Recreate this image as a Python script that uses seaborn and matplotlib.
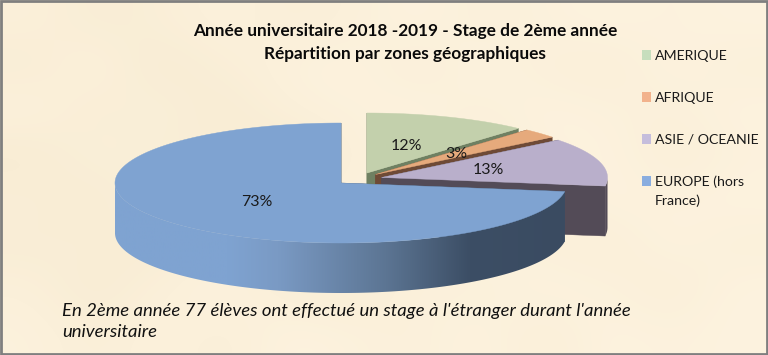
"""Stage de 2eme annee 2018-2019: repartition par zones, camembert facon 3D."""
import matplotlib
matplotlib.use("Agg")
import matplotlib.pyplot as plt
from matplotlib.colors import LinearSegmentedColormap
from matplotlib.patches import Polygon, Rectangle
import numpy as np
import seaborn as sns

ZONES = ["AMERIQUE", "AFRIQUE", "ASIE / OCEANIE", "EUROPE (hors\nFrance)"]
ELEVES = [9, 2, 10, 56]
TITLE = "Année universitaire 2018 -2019 - Stage de 2ème année\nRépartition par zones géographiques"
NOTE = "En 2ème année 77 élèves ont effectué un stage à l'étranger durant l'année\nuniversitaire"

TOP_COLORS = ["#C3D0AC", "#E6AA7C", "#B9AFCB", "#7FA3D1"]
FACE_COLORS = ["#6F8062", "#6E4A36", "#534B57", "#3C4E65"]
SWATCH_COLORS = ["#C6DEBD", "#F2B28C", "#C5BDDC", "#89ADDF"]
PAPER = ["#F7EAD0", "#FDF3DF"]
WALL_STOPS = [0, 0.25, 0.36, 0.6, 0.785, 1]
WALL_COLORS = ["#7FA3D1", "#7FA3D1", "#7A9AC4", "#5C7593", "#3C4E65", "#3A4B61"]

# petite grille de teintes pour le fond parchemin
PAPER_GRID = [
    [4, 2, 3, 5, 3, 4, 6, 4, 5, 6, 5, 6],
    [2, 5, 1, 3, 5, 6, 3, 6, 4, 3, 6, 4],
    [5, 2, 4, 1, 4, 5, 6, 4, 6, 5, 4, 6],
    [1, 4, 2, 3, 0, 4, 5, 3, 5, 6, 3, 5],
    [3, 1, 5, 3, 4, 5, 6, 5, 3, 6, 5, 6],
    [2, 3, 1, 4, 2, 5, 3, 6, 4, 3, 6, 4],
    [4, 1, 4, 6, 3, 2, 5, 4, 6, 5, 3, 6],
    [5, 3, 5, 3, 6, 5, 4, 6, 3, 6, 5, 6],
]

# centres (px) de chaque part eclatee
CENTERS = [(367, 173), (375.5, 174.5), (381.5, 177.5), (341, 183)]
RX, RY, DEPTH = 226, 60, 50
LEGEND_Y = [55, 97, 139, 181]

sns.set_theme(style="white")
plt.rcParams["font.family"] = ["Lato", "DejaVu Sans"]


def rim(center, a0, a1):
    # angles en degres, sens horaire depuis midi
    t = np.radians(np.linspace(a0, a1, max(int(abs(a1 - a0)) * 2, 2)))
    return np.c_[center[0] + RX * np.sin(t), center[1] - RY * np.cos(t)]


def draw_slice(ax, center, a0, a1, top, face, z, wall_cmap=None):
    apex = np.array(center, dtype=float)
    down = np.array([0, DEPTH])

    # faces de coupe
    for ang in (a0, a1):
        tip = rim(center, ang, ang + 1)[0]
        ax.add_patch(Polygon([apex, tip, tip + down, apex + down], fc=face, ec=face, lw=0.3, zorder=z))

    # paroi exterieure, visible de 90 a 270 degres
    w0, w1 = max(a0, 90), min(a1, 270)
    if w1 > w0:
        edge = rim(center, w0, w1)
        shape = Polygon(np.vstack([edge, edge[::-1] + down]), fc=face, ec="none", zorder=z)
        ax.add_patch(shape)
        if wall_cmap is not None:
            shape.set_visible(False)
            im = ax.imshow(np.linspace(0, 1, 256)[None, :], cmap=wall_cmap, aspect="auto",
                           extent=(center[0] - RX, center[0] + RX, 355, 0), zorder=z)
            im.set_clip_path(shape)

    ax.add_patch(Polygon(np.vstack([apex, rim(center, a0, a1)]), fc=top, ec=top, lw=0.3, zorder=z))


fig = plt.figure(figsize=(7.68, 3.55), dpi=100)
ax = fig.add_axes([0, 0, 1, 1])

shades = sns.blend_palette(PAPER, 7)
grid = np.array([[shades[i] for i in row] for row in PAPER_GRID])
ax.imshow(grid, extent=(0, 768, 355, 0), aspect="auto", interpolation="bicubic", zorder=0)

wall = LinearSegmentedColormap.from_list("wall", list(zip(WALL_STOPS, WALL_COLORS)))

total = sum(ELEVES)
edges = np.cumsum([0] + ELEVES) / total * 360
for i in range(len(ELEVES)):
    draw_slice(ax, CENTERS[i], edges[i], edges[i + 1], TOP_COLORS[i], FACE_COLORS[i],
               i + 1, wall if i == 3 else None)

for i, n in enumerate(ELEVES):
    mid = np.radians((edges[i] + edges[i + 1]) / 2)
    x = CENTERS[i][0] + 0.49 * RX * np.sin(mid)
    y = CENTERS[i][1] - 0.49 * RY * np.cos(mid)
    ax.text(x, y, f"{n / total:.0%}", ha="center", va="center", fontsize=11.5,
            color="#1a1a1a", zorder=6)

ax.text(405, 42.5, TITLE, ha="center", va="center", fontsize=12.4, fontweight="bold",
        color="#0a0a0a", linespacing=1.5, zorder=6)
ax.text(62, 321.5, NOTE, ha="left", va="center", fontsize=13.3, style="italic",
        color="#111111", linespacing=1.34, zorder=6)

for i, zone in enumerate(ZONES):
    ax.add_patch(Rectangle((642, LEGEND_Y[i] - 5), 9, 10, fc=SWATCH_COLORS[i], ec="none", zorder=6))
    ax.text(655, LEGEND_Y[i] - 5.5, zone, ha="left", va="top", fontsize=10.2,
            color="#1a1a1a", linespacing=1.6, zorder=6)

ax.add_patch(Rectangle((1, 1), 766, 353, fc="none", ec="#7F7F7F", lw=2, zorder=7))
ax.set_xlim(0, 768)
ax.set_ylim(355, 0)
ax.axis("off")

fig.savefig("out.png", dpi=100)
